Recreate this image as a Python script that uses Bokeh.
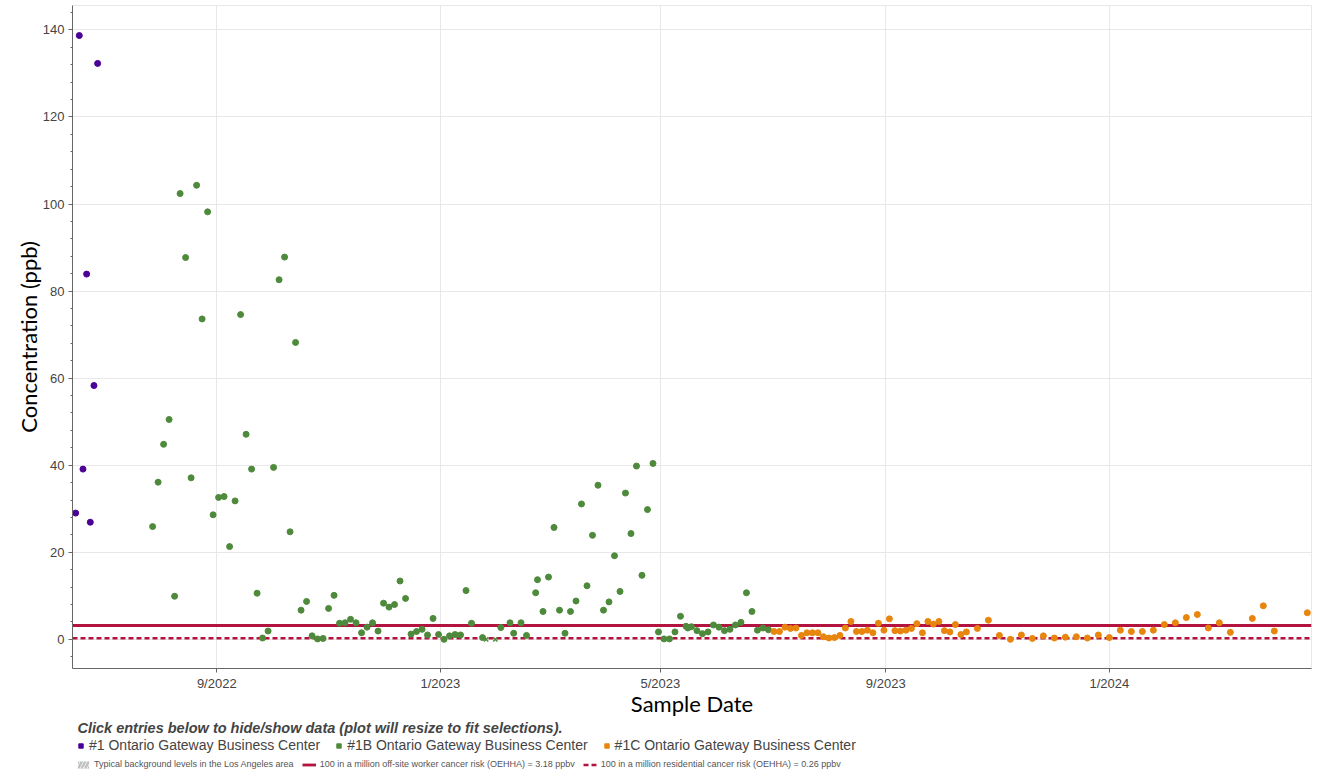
import pandas as pd
from bokeh.plotting import figure
from bokeh.layouts import column
from bokeh.models import (Range1d, FixedTicker, SingleIntervalTicker, Legend,
                          LegendItem, Title)
from bokeh.embed import file_html
from bokeh.resources import INLINE

# ---------------- data ----------------
site_names = ["#1 Ontario Gateway Business Center",
              "#1B Ontario Gateway Business Center",
              "#1C Ontario Gateway Business Center"]
site_colors = ["#4b0096", "#4e8a3b", "#e8850c"]

s1_dates = ["2022-06-16", "2022-06-18", "2022-06-20", "2022-06-22", "2022-06-24",
            "2022-06-26", "2022-06-28"]
s1_vals = [29.0, 138.7, 39.1, 83.9, 26.9, 58.3, 132.3]

s1b_dates = [
    "2022-07-28", "2022-07-31", "2022-08-03", "2022-08-06", "2022-08-09", "2022-08-12",
    "2022-08-15", "2022-08-18", "2022-08-21", "2022-08-24", "2022-08-27", "2022-08-30",
    "2022-09-02", "2022-09-05", "2022-09-08", "2022-09-11", "2022-09-14", "2022-09-17",
    "2022-09-20", "2022-09-23", "2022-09-26", "2022-09-29", "2022-10-02", "2022-10-05",
    "2022-10-08", "2022-10-11", "2022-10-14", "2022-10-17", "2022-10-20", "2022-10-23",
    "2022-10-26", "2022-10-29", "2022-11-01", "2022-11-04", "2022-11-07", "2022-11-10",
    "2022-11-13", "2022-11-16", "2022-11-19", "2022-11-22", "2022-11-25", "2022-11-28",
    "2022-12-01", "2022-12-04", "2022-12-07", "2022-12-10", "2022-12-13", "2022-12-16",
    "2022-12-19", "2022-12-22", "2022-12-25", "2022-12-28", "2022-12-31", "2023-01-03",
    "2023-01-06", "2023-01-09", "2023-01-12", "2023-01-15", "2023-01-18", "2023-01-24",
    "2023-02-03", "2023-02-08", "2023-02-10", "2023-02-14", "2023-02-17", "2023-02-22",
    "2023-02-23", "2023-02-26", "2023-03-01", "2023-03-04", "2023-03-07", "2023-03-10",
    "2023-03-13", "2023-03-16", "2023-03-19", "2023-03-22", "2023-03-25", "2023-03-28",
    "2023-03-31", "2023-04-03", "2023-04-06", "2023-04-09", "2023-04-12", "2023-04-15",
    "2023-04-18", "2023-04-21", "2023-04-24", "2023-04-27", "2023-04-30", "2023-05-03",
    "2023-05-06", "2023-05-09", "2023-05-12", "2023-05-15", "2023-05-16", "2023-05-18",
    "2023-05-21", "2023-05-24", "2023-05-27", "2023-05-30", "2023-06-02", "2023-06-05",
    "2023-06-08", "2023-06-11", "2023-06-14", "2023-06-17", "2023-06-20", "2023-06-23",
    "2023-06-26", "2023-06-29"]
s1b_vals = [
    25.9, 36.1, 44.8, 50.5, 9.9, 102.4,
    87.7, 37.1, 104.3, 73.6, 98.2, 28.6,
    32.6, 32.8, 21.3, 31.8, 74.6, 47.1,
    39.1, 10.6, 0.3, 1.9, 39.5, 82.6,
    87.8, 24.7, 68.2, 6.7, 8.7, 0.8,
    0.1, 0.2, 7.1, 10.1, 3.7, 3.8,
    4.6, 3.8, 1.5, 2.8, 3.8, 1.9,
    8.3, 7.4, 8.0, 13.4, 9.4, 1.2,
    1.8, 2.3, 1.0, 4.8, 1.1, 0.0,
    0.8, 1.1, 1.0, 11.2, 3.7, 0.4,
    2.7, 3.8, 1.4, 3.8, 0.9, 10.7,
    13.7, 6.4, 14.3, 25.7, 6.7, 1.4,
    6.4, 8.8, 31.1, 12.3, 23.9, 35.4,
    6.7, 8.6, 19.2, 11.0, 33.6, 24.3,
    39.8, 14.7, 29.8, 40.4, 1.7, 0.1,
    0.1, 1.7, 5.3, 3.0, 2.6, 2.9,
    2.0, 1.3, 1.7, 3.3, 2.8, 2.0,
    2.3, 3.3, 3.9, 10.7, 6.4, 2.1,
    2.6, 2.2]

# non-detect samples at site #1B
s1b_nd_dates = ["2023-01-26", "2023-01-31"]
s1b_nd_vals = [0.0, 0.0]

s1c_dates = [
    "2023-07-02", "2023-07-05", "2023-07-08", "2023-07-11", "2023-07-14", "2023-07-17",
    "2023-07-20", "2023-07-23", "2023-07-26", "2023-07-29", "2023-08-01", "2023-08-04",
    "2023-08-07", "2023-08-10", "2023-08-13", "2023-08-16", "2023-08-19", "2023-08-22",
    "2023-08-25", "2023-08-28", "2023-08-31", "2023-09-03", "2023-09-06", "2023-09-09",
    "2023-09-12", "2023-09-15", "2023-09-18", "2023-09-21", "2023-09-24", "2023-09-27",
    "2023-09-30", "2023-10-03", "2023-10-06", "2023-10-09", "2023-10-12", "2023-10-15",
    "2023-10-21", "2023-10-27", "2023-11-02", "2023-11-08", "2023-11-14", "2023-11-20",
    "2023-11-26", "2023-12-02", "2023-12-08", "2023-12-14", "2023-12-20", "2023-12-26",
    "2024-01-01", "2024-01-07", "2024-01-13", "2024-01-19", "2024-01-25", "2024-01-31",
    "2024-02-06", "2024-02-12", "2024-02-18", "2024-02-24", "2024-03-01", "2024-03-07",
    "2024-03-19", "2024-03-25", "2024-03-31", "2024-04-18"]
s1c_vals = [
    1.8, 1.8, 2.8, 2.5, 2.6, 0.9,
    1.5, 1.5, 1.5, 0.6, 0.3, 0.4,
    0.9, 2.6, 4.1, 1.8, 1.8, 2.1,
    1.5, 3.7, 2.1, 4.7, 2.0, 1.9,
    2.1, 2.5, 3.6, 1.5, 4.1, 3.5,
    4.1, 2.0, 1.7, 3.4, 1.1, 1.7,
    2.5, 4.4, 0.9, 0.0, 1.0, 0.2,
    0.8, 0.3, 0.5, 0.6, 0.3, 1.0,
    0.4, 2.1, 1.8, 1.8, 2.1, 3.4,
    3.8, 5.0, 5.7, 2.6, 3.8, 1.6,
    4.8, 7.7, 1.9, 6.1]

worker_risk = 3.18
residential_risk = 0.26
background_low, background_high = 0.0, 0.5   # band is hidden in the chart
worker_label = "100 in a million off-site worker cancer risk (OEHHA) = 3.18 ppbv"
resid_label = "100 in a million residential cancer risk (OEHHA) = 0.26 ppbv"
background_label = "Typical background levels in the Los Angeles area"
hint_text = "Click entries below to hide/show data (plot will resize to fit selections)."
risk_color = "#b3143f"

tick_dates = ["2022-09-01", "2023-01-01", "2023-05-01", "2023-09-01", "2024-01-01"]
tick_labels = ["9/2022", "1/2023", "5/2023", "9/2023", "1/2024"]

x_start, x_end = pd.Timestamp("2022-06-14 07:00"), pd.Timestamp("2024-04-20 07:00")
y_start, y_end = -6.7, 145.6

FIG_W = 1318

# ---------------- main figure ----------------
p = figure(width=FIG_W, height=738, x_axis_type="datetime",
           x_range=Range1d(x_start, x_end), y_range=Range1d(y_start, y_end),
           output_backend="svg", toolbar_location=None,
           min_border_left=72, min_border_right=7, min_border_top=5, min_border_bottom=70,
           x_axis_label="Sample Date", y_axis_label="Concentration (ppb)",
           background_fill_color="white", border_fill_color="white")
p.outline_line_color = "#e8e8e8"

tick_ms = [int(pd.Timestamp(d).value // 10**6) for d in tick_dates]
p.xaxis.ticker = FixedTicker(ticks=tick_ms)
p.xaxis.major_label_overrides = {ms: lab for ms, lab in zip(tick_ms, tick_labels)}
p.yaxis.ticker = SingleIntervalTicker(interval=20, num_minor_ticks=5)

for ax in (p.xaxis[0], p.yaxis[0]):
    ax.axis_line_color = "#666666"
    ax.major_tick_line_color = "#666666"
    ax.minor_tick_line_color = "#666666"
    ax.major_tick_in = 0
    ax.major_tick_out = 4
    ax.minor_tick_in = 0
    ax.minor_tick_out = 2
    ax.major_label_text_font = "Liberation Sans"
    ax.major_label_text_font_size = "13px"
    ax.major_label_text_color = "#444444"
    ax.axis_label_text_font = "Lato"
    ax.axis_label_text_font_size = "22px"
    ax.axis_label_text_font_style = "normal"
    ax.axis_label_text_color = "#000000"
p.xaxis.minor_tick_line_color = None
p.xaxis.major_label_standoff = 3
p.xaxis.axis_label_standoff = -4
p.yaxis.major_label_standoff = 4
p.yaxis.axis_label_standoff = -2

p.grid.grid_line_color = "#e8e8e8"

# threshold lines
p.line(x=[x_start, x_end], y=[worker_risk, worker_risk], line_color=risk_color, line_width=2.8)
p.line(x=[x_start, x_end], y=[residential_risk, residential_risk], line_color=risk_color,
       line_width=2.5, line_dash="5 3")

# data points
p.scatter(pd.to_datetime(s1_dates), s1_vals, size=6, color=site_colors[0])
p.scatter(pd.to_datetime(s1b_dates), s1b_vals, size=6, color=site_colors[1])
p.scatter(pd.to_datetime(s1b_nd_dates), s1b_nd_vals, marker="x", size=6,
          line_color=site_colors[1], line_width=1.5)
p.scatter(pd.to_datetime(s1c_dates), s1c_vals, size=6, color=site_colors[2])

title = Title(text=hint_text, align="left", offset=5, standoff=-3, text_font="Liberation Sans",
              text_font_size="14.5px", text_font_style="bold italic", text_color="#444444")
p.add_layout(title, "below")

# ---------------- legend strip ----------------
lg = figure(width=FIG_W, height=34, x_range=Range1d(x_start, x_end), y_range=Range1d(y_start, y_end),
            x_axis_location=None, y_axis_location=None, output_backend="svg",
            toolbar_location=None, min_border=0, outline_line_color=None,
            background_fill_color="white", border_fill_color="white")
lg.grid.visible = False

site_rs = []
for d, v, c in zip([s1_dates, s1b_dates, s1c_dates], [s1_vals, s1b_vals, s1c_vals], site_colors):
    r = lg.scatter(pd.to_datetime(d), v, marker="square", color=c)
    r.visible = False
    site_rs.append(r)
band_r = lg.quad(left=[x_start], right=[x_end], bottom=[background_low], top=[background_high],
                 fill_alpha=0, line_color=None, hatch_pattern="/", hatch_color="#c0c0c0",
                 hatch_weight=2.5, hatch_scale=7)
worker_r = lg.line(x=[x_start, x_end], y=[worker_risk, worker_risk],
                   line_color=risk_color, line_width=2.8)
resid_r = lg.line(x=[x_start, x_end], y=[residential_risk, residential_risk],
                  line_color=risk_color, line_width=2.5, line_dash="5 3")
for r in (band_r, worker_r, resid_r):
    r.visible = False

legend1 = Legend(items=[LegendItem(label=n, renderers=[r]) for n, r in zip(site_names, site_rs)],
                 orientation="horizontal", location=(3, 19),
                 label_text_font="Liberation Sans", label_text_font_size="14px",
                 label_text_color="#444444", glyph_width=11, glyph_height=11,
                 label_height=12, label_standoff=3, spacing=13, padding=0, margin=0,
                 border_line_color=None, background_fill_alpha=0)
lg.add_layout(legend1)

legend2 = Legend(items=[LegendItem(label=background_label, renderers=[band_r]),
                        LegendItem(label=worker_label, renderers=[worker_r]),
                        LegendItem(label=resid_label, renderers=[resid_r])],
                 orientation="horizontal", location=(4, 3),
                 label_text_font="Liberation Sans", label_text_font_size="9px",
                 label_text_color="#555555", glyph_width=14, glyph_height=9,
                 label_height=9, label_standoff=4, spacing=8, padding=0, margin=0,
                 border_line_color=None, background_fill_alpha=0)
lg.add_layout(legend2)

layout = column(p, lg, spacing=0)
open("out.html", "w").write(file_html(layout, INLINE))
